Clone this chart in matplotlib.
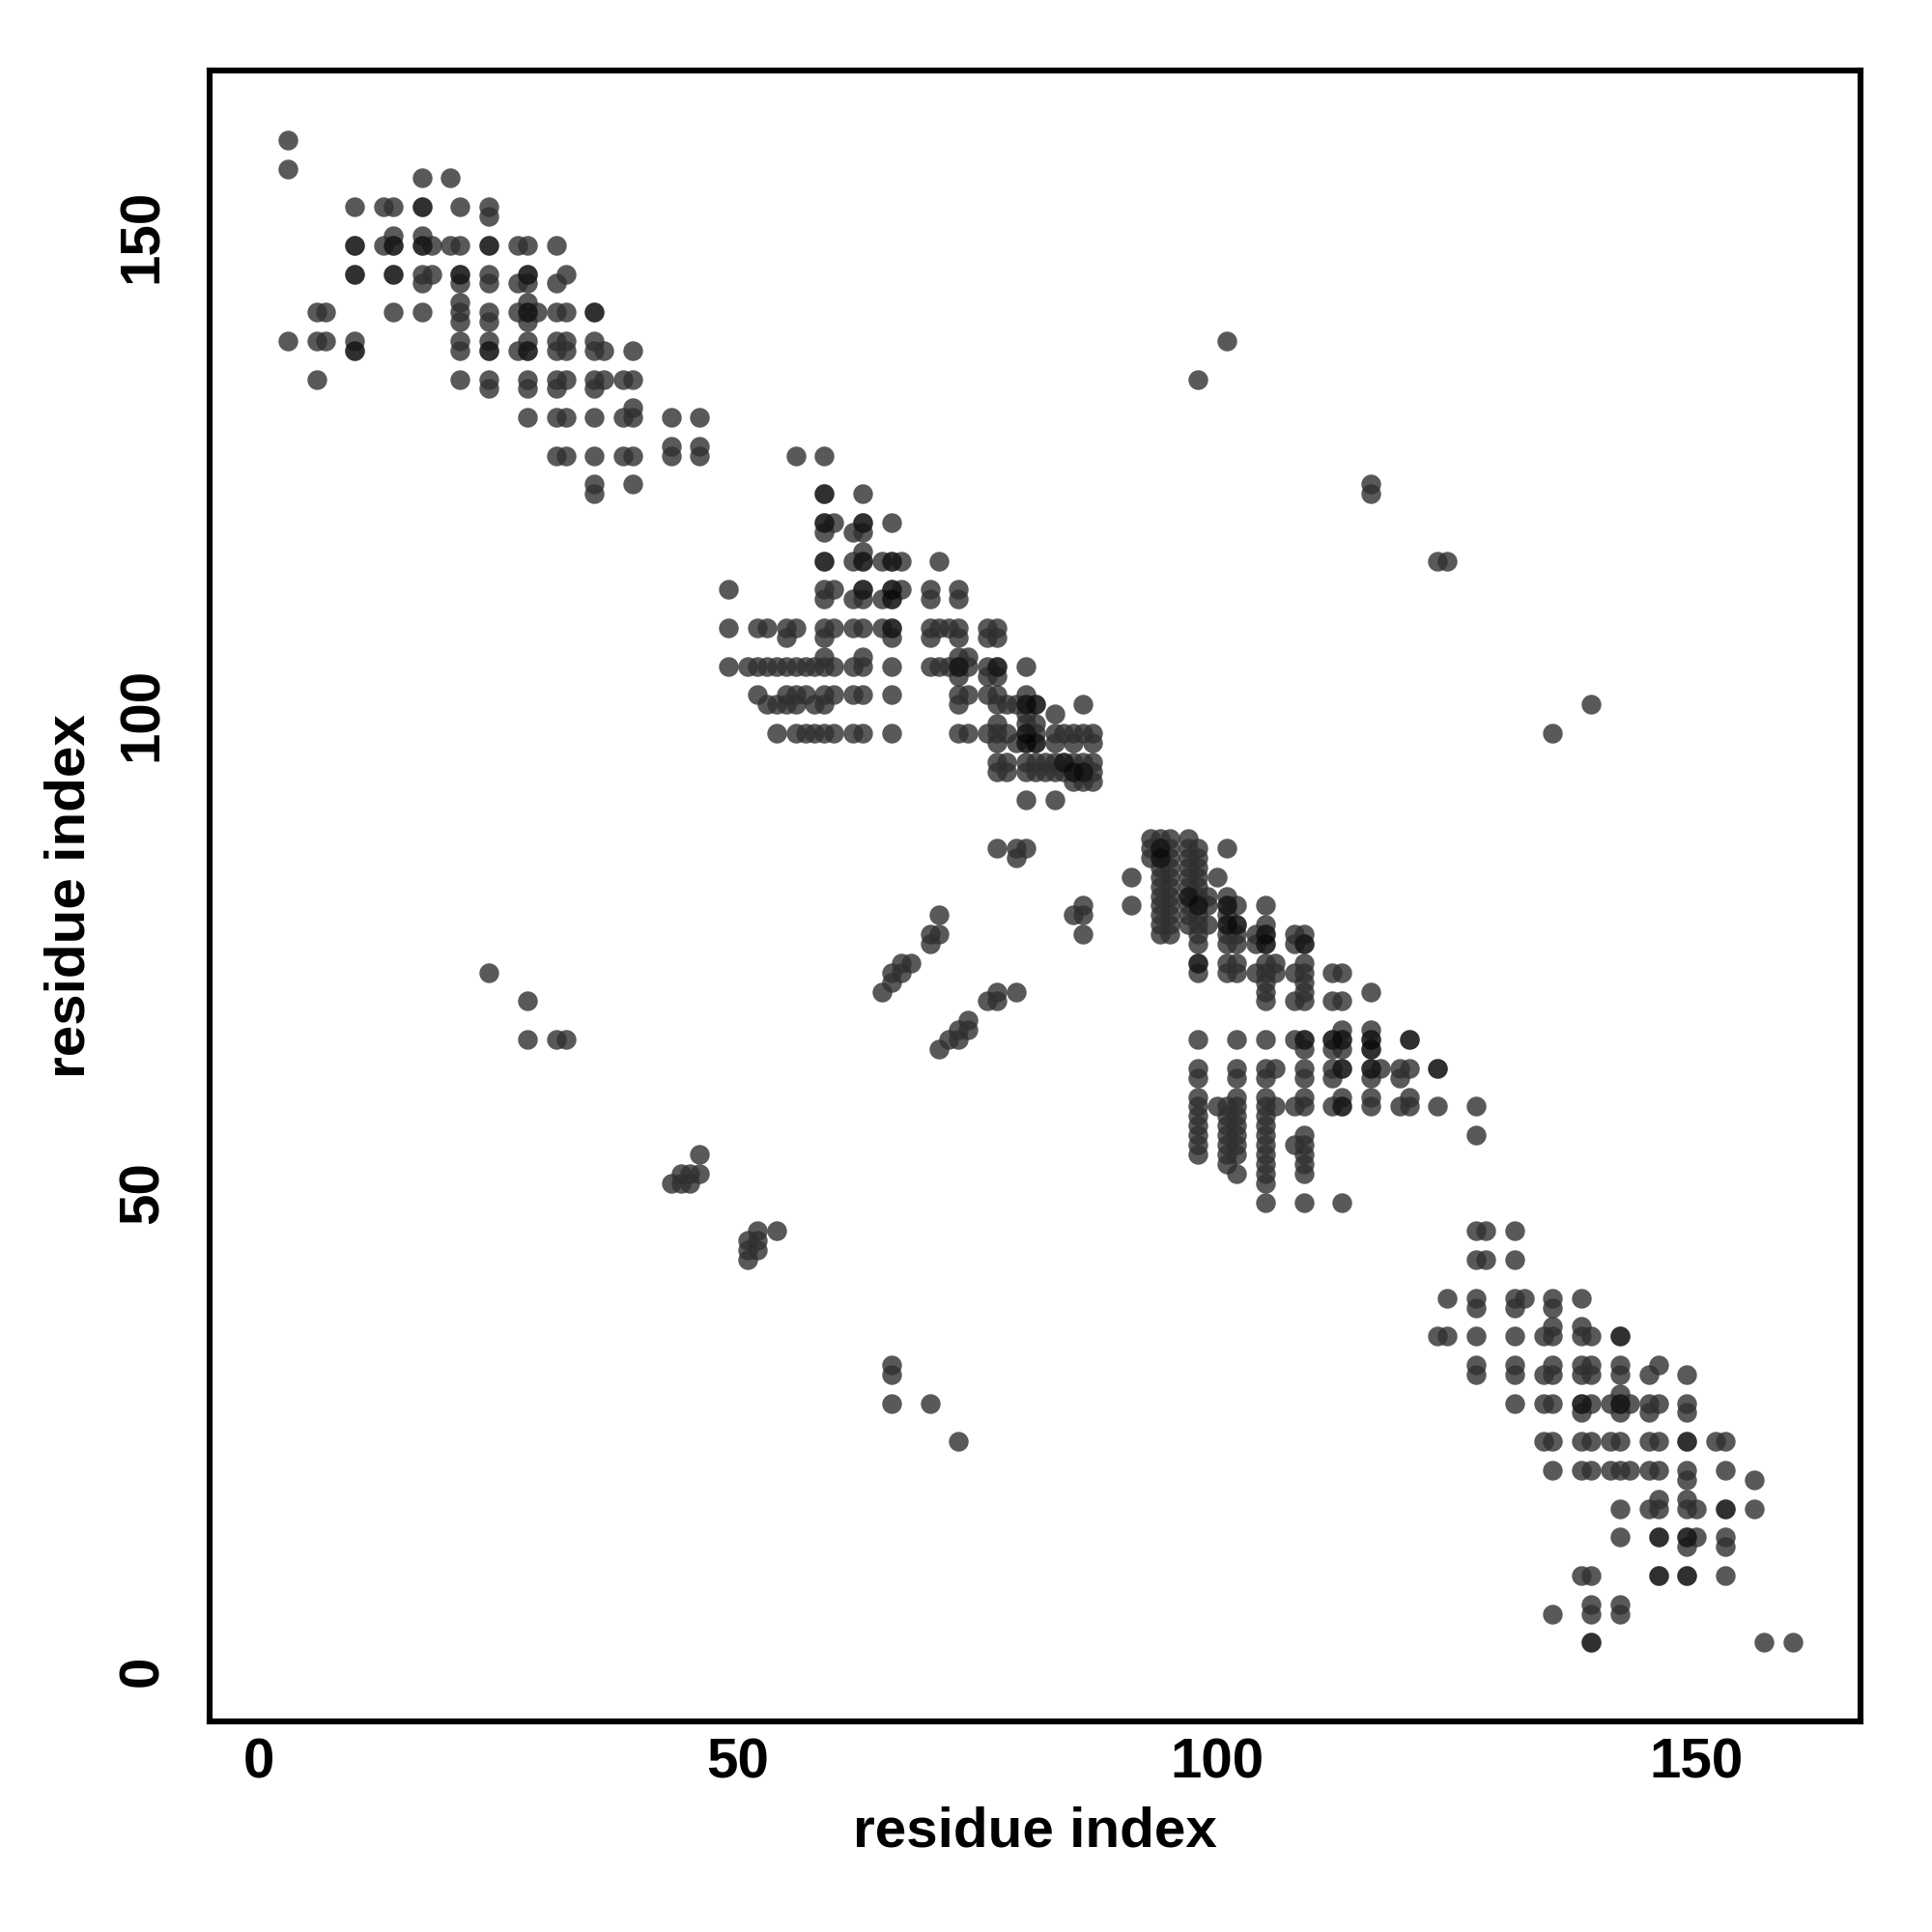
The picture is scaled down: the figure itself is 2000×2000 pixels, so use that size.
import matplotlib
matplotlib.use("Agg")
import matplotlib.pyplot as plt
import numpy as np

# contact map: row (y residue) -> list of x residues, one dict per block
block_a = {
    160: [3], 157: [3], 156: [17, 20],
    153: [10, 13, 14, 17, 21, 24], 152: [24], 150: [14, 17],
    149: [10, 13, 14, 17, 18, 20, 21, 24, 27, 28, 31],
    146: [10, 14, 17, 18, 21, 24, 28, 32],
    145: [17, 21, 24, 27, 28, 31],
    143: [21, 28],
    142: [6, 7, 14, 17, 21, 24, 27, 28, 29, 31, 32, 35],
    141: [21, 24, 28],
    139: [3, 6, 7, 10, 21, 24, 28, 31, 32, 35],
    138: [10, 21, 24, 27, 28, 31, 32, 35, 36, 39],
    135: [6, 21, 24, 28, 31, 32, 35, 36, 38, 39],
    134: [24, 28, 31, 35],
    132: [39],
    131: [28, 31, 32, 35, 38, 39, 43, 46],
    128: [43, 46],
    127: [31, 32, 35, 38, 39, 43, 46],
    124: [35, 39], 123: [35],
}

block_b = {
    127: [56, 59], 123: [59, 63],
    120: [59, 60, 63, 66], 119: [59, 62, 63], 117: [63],
    116: [59, 62, 63, 65, 66, 67, 71],
    113: [49, 59, 60, 63, 66, 67, 70, 73],
    112: [59, 62, 63, 65, 66, 70, 73],
    109: [49, 52, 53, 55, 56, 59, 60, 62, 63, 65, 66, 70, 71, 72, 73, 76, 77],
    108: [55, 59, 66, 70, 73, 76, 77],
    106: [59, 63, 73, 74],
    105: [49, 51, 52, 53, 54, 55, 56, 57, 58, 59, 60, 62, 63, 66, 70, 71, 72,
          73, 74, 76, 77, 80],
    104: [73, 76, 77],
    102: [52, 55, 56, 57, 59, 60, 62, 63, 66, 73, 74, 76, 77, 80],
    101: [53, 54, 55, 56, 58, 59, 73, 77, 78, 79, 80, 81, 86],
    100: [80, 83], 99: [77, 80, 81],
    98: [54, 56, 57, 58, 59, 60, 62, 63, 66, 73, 74, 76, 77, 78, 80, 81, 83,
         84, 85, 86, 87],
    97: [77, 79, 80, 81, 83, 85, 87],
    95: [77, 78, 80, 81, 82, 83, 84, 85, 86, 87],
    94: [77, 78, 80, 81, 82, 83, 84, 85, 86, 87],
    93: [85, 86, 87], 91: [80, 83],
}

block_c = {
    87: [93, 94, 95, 97],
    86: [93, 94, 95, 97, 98, 101],
    85: [93, 94, 95, 97, 98],
    84: [94, 95, 97, 98],
    83: [91, 94, 95, 97, 98, 100],
    82: [94, 95, 97, 98],
    81: [94, 95, 97, 98, 99, 101],
    80: [91, 94, 95, 97, 98, 99, 101, 102, 105],
    79: [94, 95, 97, 98, 101],
    78: [94, 95, 97, 98, 99, 101, 102, 105],
    77: [94, 95, 98, 101, 102, 104, 105, 108, 109],
    76: [98, 101, 102, 104, 105, 108, 109],
    74: [98, 101, 102, 105, 106, 109],
    73: [98, 101, 102, 104, 105, 106, 108, 109, 112, 113],
    72: [105, 109], 71: [105, 109, 116],
    70: [105, 108, 109, 112, 113],
    67: [113, 116],
    66: [98, 102, 105, 108, 109, 112, 113, 116, 120],
    65: [109, 112, 113, 116],
    63: [98, 102, 105, 106, 109, 112, 113, 116, 117, 119, 120, 123],
    62: [98, 102, 105, 109, 112, 116, 119],
    60: [98, 102, 105, 109, 113, 116, 120],
    59: [98, 100, 101, 102, 105, 106, 108, 109, 112, 113, 116, 119, 120, 123, 127],
    58: [98, 101, 102, 105],
    57: [98, 101, 102, 105],
    56: [98, 101, 102, 105, 109, 127],
    55: [98, 101, 102, 105, 108, 109],
    54: [98, 101, 102, 105, 109],
    53: [101, 105, 109], 52: [102, 105, 109], 51: [105],
    49: [105, 109, 113],
}

block_d = {
    46: [127, 128, 131], 43: [127, 128, 131],
    39: [124, 127, 131, 132, 135, 138],
    38: [127, 131, 135], 36: [135, 138],
    35: [123, 124, 127, 131, 134, 135, 138, 139, 142],
    32: [127, 131, 135, 138, 139, 142, 146],
    31: [127, 131, 134, 135, 138, 139, 142, 145, 149],
    29: [142],
    28: [131, 134, 135, 138, 139, 141, 142, 143, 145, 146, 149],
    27: [138, 142, 145, 149],
    24: [134, 135, 138, 139, 141, 142, 145, 146, 149, 152, 153],
    21: [135, 138, 139, 141, 142, 143, 145, 146, 149, 153],
    20: [149, 156], 18: [146, 149],
    17: [142, 145, 146, 149, 150, 153, 156],
    14: [142, 146, 149, 150, 153],
    13: [149, 153],
    10: [138, 139, 146, 149, 153],
    7: [139, 142], 6: [135, 139, 142],
    3: [139, 157, 160],
}

# scattered long-range contacts
sparse_x = [24, 28, 28, 31, 32, 43, 44, 45, 44, 45, 46, 46,
            51, 51, 51, 52, 52, 52, 54, 66, 66, 66, 70, 73,
            65, 66, 66, 67, 67, 68, 70, 70, 71, 71,
            71, 72, 73, 73, 74, 74, 76, 77, 77, 79,
            77, 79, 80, 79, 85, 86, 86, 86,
            98, 101, 116, 116, 123, 124, 135, 139]
sparse_y = [73, 70, 66, 66, 66, 51, 51, 51, 52, 52, 52, 54,
            43, 44, 45, 44, 45, 46, 46, 32, 31, 28, 28, 24,
            71, 72, 73, 73, 74, 74, 76, 77, 77, 79,
            65, 66, 66, 67, 67, 68, 70, 70, 71, 71,
            86, 86, 86, 85, 79, 79, 80, 77,
            135, 139, 124, 123, 116, 116, 98, 101]

# contacts that appear darker (several models agree)
strong_x = [17, 10, 14, 17, 24, 10, 14, 28, 35, 28, 24, 28, 10, 21,
            59, 59, 63, 66, 63, 66, 66, 66, 73, 77, 80, 81, 80, 81, 84, 85, 86, 80, 63, 59,
            94, 94, 97, 98, 101, 102, 101, 105, 105, 109, 109, 112, 113, 116, 113, 116,
            120, 123, 116, 113, 98,
            142, 149, 153, 146, 149, 149, 146, 138, 142, 139]
strong_y = [153, 149, 149, 149, 149, 146, 146, 146, 142, 142, 138, 138, 138, 146,
            123, 116, 116, 116, 113, 113, 112, 109, 105, 105, 101, 101, 97, 97, 95, 94, 94, 98, 120, 120,
            86, 85, 81, 80, 80, 78, 78, 77, 76, 76, 66, 66, 66, 66, 63, 63,
            66, 63, 65, 59, 74,
            35, 24, 17, 10, 10, 14, 14, 28, 28, 3]


def unpack(block):
    xs, ys = [], []
    for y, row in block.items():
        xs += row
        ys += [y] * len(row)
    return xs, ys


fig = plt.figure(figsize=(10, 10), dpi=200)
ax = fig.add_axes([0.1085, 0.109, 0.8545, 0.8545])

msize = 54
for block in [block_a, block_b, block_c, block_d]:
    bx, by = unpack(block)
    ax.scatter(bx, by, s=msize, c="#303030", alpha=0.8, linewidths=0)
ax.scatter(sparse_x, sparse_y, s=msize, c="#303030", alpha=0.8, linewidths=0)
ax.scatter(strong_x, strong_y, s=msize, c="black", alpha=0.45, linewidths=0)

ax.set_xlim(-5.14, 167.1)
ax.set_ylim(-5.25, 167.25)
ax.set_xticks([0, 50, 100, 150])
ax.set_yticks([0, 50, 100, 150])

font = dict(family="Liberation Sans", weight="bold", size=21)
ax.set_xticklabels(["0", "50", "100", "150"], fontdict=font)
ax.set_yticklabels(["0", "50", "100", "150"], fontdict=font, rotation=90, va="center")
ax.tick_params(axis="x", length=0, pad=6)
ax.tick_params(axis="y", length=0, pad=15)

ax.set_xlabel("residue index", fontdict=font)
ax.set_ylabel("residue index", fontdict=font)
ax.xaxis.set_label_coords(0.5, -0.051)
ax.yaxis.set_label_coords(-0.0685, 0.5)

for sp in ax.spines.values():
    sp.set_linewidth(2.2)

fig.savefig("out.png", dpi=200, facecolor="white")
